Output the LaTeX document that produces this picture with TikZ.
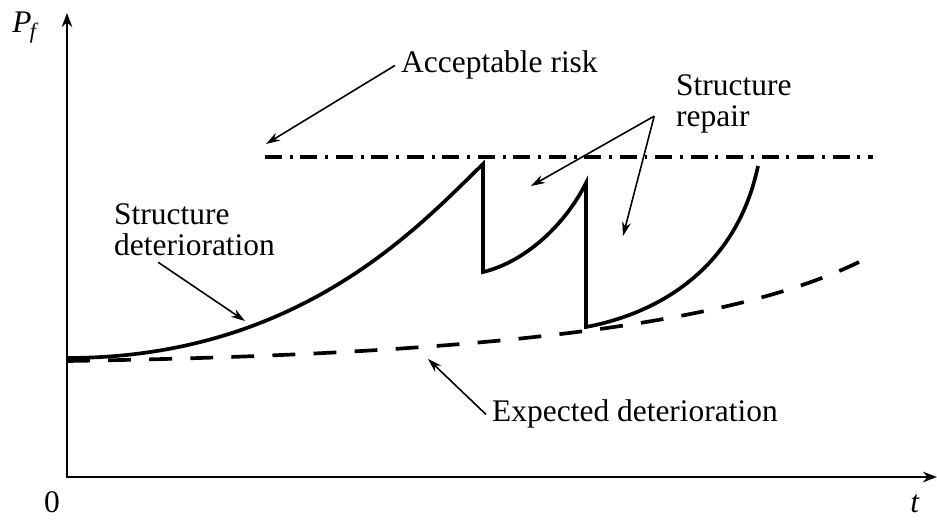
\documentclass[tikz,border=0pt]{standalone}
\usepackage{fontspec}
\setmainfont{Liberation Serif}
\usepackage{tikz}
\usetikzlibrary{arrows.meta, positioning}

\tikzset{
  lbl/.style={font=\fontsize{17.9}{18.1}\selectfont, align=left},
  axis/.style={line width=1.5pt, -{Stealth[length=8pt, width=6pt]}},
  note/.style={line width=0.9pt, -{Stealth[length=8pt, width=5pt]}},
  curve/.style={line width=2.1pt},
}

\begin{document}
\begin{tikzpicture}[x=0.02cm, y=-0.02cm]
\useasboundingbox (0,0) rectangle (937,523);
% axes
\coordinate (O) at (67,477);
\coordinate (ytop) at (67,13);
\coordinate (xend) at (937,477);
\draw[axis, {Stealth[length=8pt, width=6pt]}-{Stealth[length=8pt, width=6pt]}] (ytop) |- (xend);
\node[lbl, anchor=base west, inner sep=0] (pf) at (12,33) {\textit{P}\textsubscript{\kern-1pt\textit{f}}};
\node[lbl, anchor=base, inner sep=0] (zero) at (52,513) {0};
\node[lbl, anchor=base, inner sep=0] (t) at (915,513) {\textit{t}};
% acceptable risk
\draw[line width=2pt, dash pattern=on 9.5pt off 4.5pt on 1.7pt off 4.5pt] (265,157) -- (873,157);
% expected deterioration
\draw[curve, dash pattern=on 13pt off 10.4pt] (67,361) .. controls (450,355) and (720,330) .. (859,262);
% structure deterioration and repairs
\draw[curve, line join=miter] (67,358) .. controls (300,358) and (420,225) .. (483,164) -- (483,272)
  .. controls (525,262) and (565,225) .. (586,183) -- (586,327)
  .. controls (650,315) and (735,275) .. (758,166);
% labels
\node[lbl, anchor=base west] (risk) at (395,73) {Acceptable risk};
\node[lbl, anchor=north west] (rep) at (670,68) {Structure\\repair};
\node[lbl, anchor=north west] (det) at (108,197) {Structure\\deterioration};
\node[lbl, anchor=base west] (exp) at (486,422) {Expected deterioration};
\coordinate (riskpt) at (266,144);
\coordinate (rep1) at (531,186);
\coordinate (rep2) at (623,236);
\coordinate (detpt) at (245,321);
\coordinate (exppt) at (428,359);
\draw[note] (risk.west) -- (riskpt);
\draw[note] ([xshift=-9pt,yshift=-7pt]rep.west) -- (rep1);
\draw[note] ([xshift=-9pt,yshift=-7pt]rep.west) -- (rep2);
\draw[note] (det.222) -- (detpt);
\draw[note] (exp.west) -- (exppt);
\end{tikzpicture}
\end{document}
